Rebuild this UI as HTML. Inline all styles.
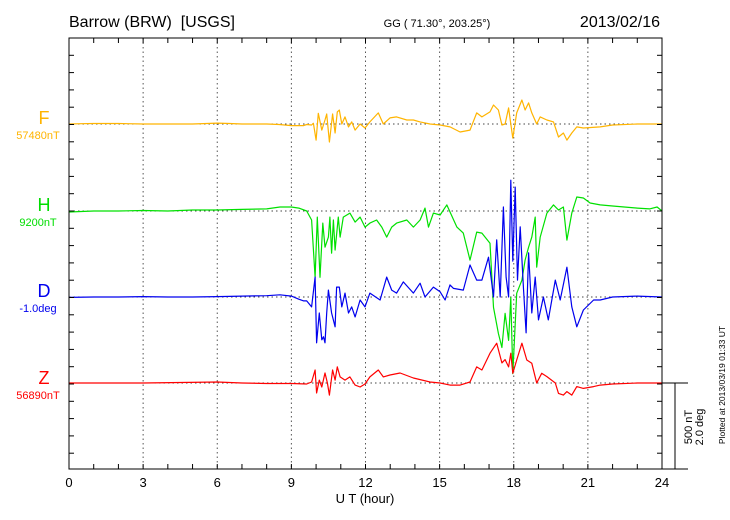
<!DOCTYPE html>
<html><head><meta charset="utf-8"><style>
html,body{margin:0;padding:0;background:#fff;}
svg{display:block;font-family:"Liberation Sans",sans-serif;}
</style></head><body>
<svg id="chart" width="730" height="520" viewBox="0 0 730 520" xmlns="http://www.w3.org/2000/svg">
<text x="69" y="27" font-size="16" xml:space="preserve" style="white-space:pre">Barrow (BRW)  [USGS]</text>
<text x="437" y="27" font-size="11" text-anchor="middle">GG ( 71.30°, 203.25°)</text>
<text x="660" y="27" font-size="16" text-anchor="end">2013/02/16</text>
<g id="grid"></g>
<g id="series"></g>
<rect x="69" y="38" width="593" height="431" fill="none" stroke="#000" stroke-width="1"/>
<g id="axes"></g>
<text x="365" y="503" font-size="13" text-anchor="middle">U T (hour)</text>
<line x1="662" y1="383" x2="688" y2="383" stroke="#000"/>
<line x1="662" y1="469" x2="688" y2="469" stroke="#000"/>
<line x1="675" y1="383" x2="675" y2="469" stroke="#000"/>
<text transform="translate(692,427) rotate(-90)" font-size="11" text-anchor="middle">500 nT</text>
<text transform="translate(703,427) rotate(-90)" font-size="11" text-anchor="middle">2.0 deg</text>
<text transform="translate(725,385) rotate(-90)" font-size="8.5" text-anchor="middle">Plotted at 2013/03/19 01:33 UT</text>
<text x="44" y="124" font-size="18" fill="#ffb400" text-anchor="middle">F</text>
<text x="38" y="139" font-size="11" fill="#ffb400" text-anchor="middle">57480nT</text>
<text x="44" y="211" font-size="18" fill="#00dd00" text-anchor="middle">H</text>
<text x="38" y="226" font-size="11" fill="#00dd00" text-anchor="middle">9200nT</text>
<text x="44" y="297" font-size="18" fill="#0000ee" text-anchor="middle">D</text>
<text x="38" y="312" font-size="11" fill="#0000ee" text-anchor="middle">-1.0deg</text>
<text x="44" y="384" font-size="18" fill="#ff0000" text-anchor="middle">Z</text>
<text x="38" y="399" font-size="11" fill="#ff0000" text-anchor="middle">56890nT</text>
</svg>
<script>
const xTicks = [0,3,6,9,12,15,18,21,24];
const fTime = [0,0.5,1,2,3,4,5,6,6.5,7,8,8.5,9,9.5,9.62,9.82,9.89,10.0,10.09,10.23,10.36,10.43,10.54,10.67,10.77,10.86,10.94,11.04,11.17,11.31,11.44,11.58,11.78,11.98,12.18,12.52,12.72,12.99,13.26,13.67,13.94,14.21,14.61,15.02,15.42,15.83,16.23,16.5,16.71,17.04,17.18,17.38,17.52,17.65,17.79,17.88,17.96,18.12,18.33,18.46,18.6,18.73,18.93,19.07,19.34,19.61,19.81,20.01,20.15,20.35,20.55,20.82,21.5,22,23,24];
const fVals = [0,2,3,3,0,0,0,5,3,0,0,-3,-9,-9,-3,-6,4,-93,62,-35,23,58,-104,58,-52,70,81,0,41,-17,12,-35,0,-23,12,64,0,35,41,23,23,12,0,-6,-17,-46,-35,64,41,70,110,81,-6,0,93,0,-81,64,139,81,122,64,0,41,23,12,-75,-52,-93,-52,-17,-23,-17,-6,0,0];
const hTime = [0,1,2,3,4,5,6,7,8,8.54,9,9.3,9.62,9.82,9.96,10.05,10.16,10.27,10.36,10.5,10.56,10.63,10.7,10.77,10.9,10.97,11.1,11.37,11.58,11.78,11.98,12.18,12.45,12.66,12.86,13.06,13.26,13.67,13.94,14.21,14.41,14.55,14.75,15.02,15.29,15.7,15.96,16.23,16.5,16.71,17.04,17.18,17.38,17.52,17.65,17.79,17.88,17.96,18.12,18.33,18.46,18.6,18.73,18.87,18.93,19.07,19.34,19.61,19.81,20.01,20.15,20.35,20.55,20.82,21.09,21.5,22,23,23.5,23.8,24];
const hVals = [-6,0,0,3,0,6,6,9,12,23,23,17,0,-52,-383,-35,-383,-70,-209,-151,-35,-244,-52,-226,-35,-151,-35,-12,-64,-35,-93,-70,-52,-93,-151,-93,-70,-52,-93,-52,17,-93,-12,-23,35,-93,-128,-284,-122,-128,-186,-557,-708,-789,-592,-748,-499,-940,-476,-400,-284,-209,-151,-35,-325,-151,-12,35,6,23,-168,-12,81,75,46,35,29,17,12,23,0];
const dTime = [0,1,2,3,4,5,6,7,8,8.54,9,9.3,9.5,9.62,9.82,9.96,10.02,10.13,10.23,10.3,10.36,10.43,10.5,10.63,10.77,10.83,10.94,11.04,11.17,11.31,11.44,11.58,11.78,11.98,12.18,12.59,12.86,13.06,13.26,13.53,13.94,14.21,14.41,14.75,15.02,15.22,15.42,15.56,15.96,16.23,16.5,16.71,16.98,17.18,17.31,17.45,17.58,17.69,17.79,17.88,17.96,18.06,18.15,18.26,18.39,18.5,18.6,18.73,18.87,19.0,19.2,19.4,19.68,19.88,20.15,20.35,20.55,20.82,21.23,21.5,22,23,24];
const dVals = [-0.01,0,0,0.01,0,0,0.01,0.02,0.03,0.05,0.02,-0.05,-0.09,-0.09,-0.23,0.46,-1.06,-0.37,-0.99,-0.92,-1.06,-0.37,0.16,-0.37,-0.69,0.23,0.23,-0.23,0.09,-0.37,-0.23,-0.46,-0.07,-0.23,0.09,-0.07,0.46,0.16,0.09,0.35,0.09,0.32,0,0.23,0.12,-0.07,0.28,0.2,0.16,0.74,0.39,0.39,0.92,0,1.32,0,2.08,0.46,0,2.7,0.83,2.54,0.39,1.62,0.23,-0.83,1.02,-0.37,0.46,-0.53,0,-0.53,0.39,-0.07,0.69,-0.23,-0.69,-0.3,-0.07,-0.07,0,0.02,0];
const zTime = [0,3,6,7,8,9,9.62,9.82,9.96,10.02,10.13,10.23,10.36,10.46,10.54,10.67,10.77,10.86,10.97,11.17,11.37,11.58,11.78,11.98,12.18,12.52,12.72,12.99,13.4,13.94,14.61,15.02,15.42,15.83,16.23,16.5,16.71,17.04,17.31,17.52,17.65,17.79,17.88,17.96,18.12,18.33,18.53,18.73,18.93,19.13,19.34,19.68,19.81,20.01,20.15,20.35,20.55,20.82,21.23,21.5,22,23,24];
const zVals = [0,0,6,0,-3,-3,-6,6,75,-58,17,-23,58,0,-70,75,17,93,35,17,35,-12,-23,-6,35,75,35,46,58,29,6,0,-12,-12,6,93,75,172,230,116,135,93,172,56,133,230,133,114,0,56,37,0,-60,-70,-50,-70,-21,-31,-21,-12,-6,0,0];

const NS='http://www.w3.org/2000/svg';
const X0=69, X1=662, Y0=38, Y1=469;
const pxPerNT = 86.5/500, pxPerDeg = 86.5/2;
function xScale(t){return X0 + t*(X1-X0)/24;}
function mk(tag, attrs, parent){const e=document.createElementNS(NS,tag);for(const k in attrs)e.setAttribute(k,attrs[k]);parent.appendChild(e);return e;}
const grid=document.getElementById('grid'), axes=document.getElementById('axes'), ser=document.getElementById('series');

xTicks.forEach(t=>{
  const x=xScale(t);
  if(t>0&&t<24){
    const g=mk('line',{x1:x,y1:Y0,x2:x,y2:Y1,stroke:'#555','stroke-dasharray':'1.5,3','stroke-width':1},grid);
    
    
  }
  const lb=mk('text',{x:x,y:487,'font-size':13,'text-anchor':'middle'},axes);
  lb.textContent=t;
  
  
});
for(let h=1;h<24;h++){
  const x=xScale(h);
  const a=mk('line',{x1:x,y1:Y0,x2:x,y2:Y0+5,stroke:'#000'},axes);
  
  
  const b=mk('line',{x1:x,y1:Y1,x2:x,y2:Y1-5,stroke:'#000'},axes);
  
  
}
for(let k=1;k<25;k++){
  const y=Y0+k*17.3;
  if(y>=Y1)break;
  const a=mk('line',{x1:X0,y1:y,x2:X0+5,y2:y,stroke:'#000'},axes);
  
  
  const b=mk('line',{x1:X1,y1:y,x2:X1-5,y2:y,stroke:'#000'},axes);
  
  
}
const seriesDefs=[
  {name:'f',base:124,t:fTime,v:fVals,k:pxPerNT,c:'#ffb400'},
  {name:'h',base:211,t:hTime,v:hVals,k:pxPerNT,c:'#00e000'},
  {name:'d',base:297,t:dTime,v:dVals,k:pxPerDeg,c:'#0000ee'},
  {name:'z',base:383,t:zTime,v:zVals,k:pxPerNT,c:'#ff0000'}
];
seriesDefs.forEach(s=>{
  const bl=mk('line',{x1:X0,y1:s.base,x2:X1,y2:s.base,stroke:'#444','stroke-dasharray':'1.5,3'},grid);
  
  
});
seriesDefs.forEach(s=>{
  const pts=s.t.map((t,i)=>xScale(t).toFixed(1)+','+(s.base - s.v[i]*s.k).toFixed(1)).join(' ');
  const p=mk('polyline',{points:pts,fill:'none',stroke:s.c,'stroke-width':1.2,'stroke-linejoin':'round'},ser);
  
  
});
</script>
</body></html>
